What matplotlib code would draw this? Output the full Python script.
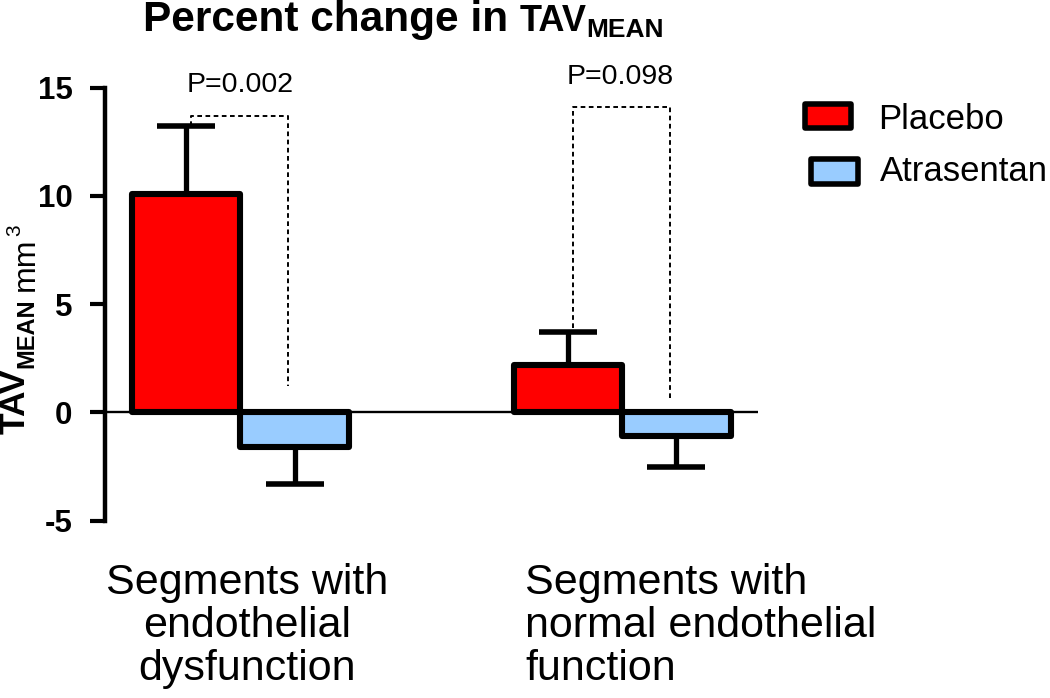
import matplotlib
matplotlib.use('Agg')
import matplotlib.pyplot as plt
from matplotlib.patches import Rectangle
import numpy as np

plt.rcParams['font.family'] = ['Liberation Sans', 'DejaVu Sans']

# ---------------- data ----------------
groups = ['Segments with\nendothelial\ndysfunction',
          'Segments with\nnormal endothelial\nfunction']
series = ['Placebo', 'Atrasentan']
placebo_mean = [10.1, 2.2]
placebo_sem = [3.1, 1.5]
atrasentan_mean = [-1.6, -1.1]
atrasentan_sem = [1.7, 1.4]
p_labels = ['P=0.002', 'P=0.098']
p_label_y = [14.8, 15.15]
bracket_top = [13.7, 14.1]
bracket_left_low = [13.2, 3.9]
bracket_right_low = [1.2, 0.55]
yticks = [-5, 0, 5, 10, 15]

colors = ['#ff0000', '#99ccff']

W, H = 1050, 698
fig = plt.figure(figsize=(W / 100, H / 100), dpi=100)
ax = fig.add_axes([104.5 / W, 1 - 520.7 / H, (758 - 104.5) / W, (520.7 - 87.5) / H])

x = np.arange(len(groups))
w = 0.283

# error bars (one-sided) behind bars
ax.errorbar(x - w / 2, placebo_mean, yerr=[np.zeros(2), placebo_sem], fmt='none',
            ecolor='black', elinewidth=3.8, capsize=21, capthick=4, zorder=2)
ax.errorbar(x + w / 2, atrasentan_mean, yerr=[atrasentan_sem, np.zeros(2)], fmt='none',
            ecolor='black', elinewidth=3.8, capsize=21, capthick=4, zorder=2)

ax.axhline(0, color='black', lw=1.7, zorder=2.5)

ax.bar(x - w / 2, placebo_mean, w, color=colors[0], edgecolor='black', linewidth=4.4,
       joinstyle='round', zorder=3)
ax.bar(x + w / 2, atrasentan_mean, w, color=colors[1], edgecolor='black', linewidth=4.4,
       joinstyle='round', zorder=3)

# significance brackets
for i in range(len(groups)):
    xl = x[i] - 0.13
    xr = x[i] + 0.125
    ax.plot([xl, xl, xr, xr],
            [bracket_left_low[i], bracket_top[i], bracket_top[i], bracket_right_low[i]],
            color='black', lw=1.4, ls=(0, (2.4, 1.8)), zorder=4)
    ax.text(x[i] - 0.005 * i, p_label_y[i], p_labels[i], ha='center', va='baseline',
            fontsize=20.5)

ax.set_xlim(-0.356, 1.355)
ax.set_ylim(-5, 15)
ax.set_yticks(yticks)
ax.set_yticklabels([str(t) for t in yticks], fontsize=22.5, fontweight='bold')
ax.tick_params(axis='y', length=11, width=3, pad=12)
ax.set_xticks([])
for s in ['top', 'right', 'bottom']:
    ax.spines[s].set_visible(False)
ax.spines['left'].set_linewidth(3.2)

# ---------------- text pieces ----------------
fig.canvas.draw()
renderer = fig.canvas.get_renderer()


def hchain(pieces, x0, ybase):
    xx = x0
    for txt, size, weight, dy, gap in pieces:
        t = fig.text(xx / W, 1 - (ybase + dy) / H, txt, fontsize=size, fontweight=weight,
                     ha='left', va='baseline')
        bb = t.get_window_extent(renderer)
        xx = bb.x1 + gap


def vchain(pieces, xbase, y0):
    yy = H - y0  # display coords from bottom
    for txt, size, weight, dx, gap in pieces:
        t = fig.text((xbase + dx) / W, yy / H, txt, fontsize=size, fontweight=weight,
                     rotation=90, rotation_mode='anchor', ha='left', va='baseline')
        bb = t.get_window_extent(renderer)
        yy = bb.y1 + gap


# title
hchain([('Percent change in', 30.5, 'bold', 0, 11),
        ('TAV', 26, 'bold', 0, 0),
        ('MEAN', 19, 'bold', 6, 0)], 143, 31)

# y label
vchain([('TAV', 25.5, 'bold', 0, 0),
        ('MEAN', 17, 'bold', 8, 8),
        ('mm', 23, 'normal', 9, 1),
        ('3', 15, 'normal', -5, 0)], 25, 434)

# category labels
cat_lines = [g.split('\n') for g in groups]
baselines = [594, 637, 680]
for j, line in enumerate(cat_lines[0]):
    fig.text(247 / W, 1 - baselines[j] / H, line, fontsize=31, ha='center', va='baseline')
for j, line in enumerate(cat_lines[1]):
    fig.text(525 / W, 1 - baselines[j] / H, line, fontsize=31, ha='left', va='baseline')

# legend
leg_boxes = [(804.5, 104.5, 46, 23), (810.5, 159.5, 47, 24)]
leg_text = [(878, 129), (880, 181)]
for k, name in enumerate(series):
    bx, by, bw, bh = leg_boxes[k]
    fig.patches.append(Rectangle((bx / W, 1 - (by + bh) / H), bw / W, bh / H,
                                 transform=fig.transFigure, facecolor=colors[k],
                                 edgecolor='black', linewidth=4, joinstyle='round'))
    tx, ty = leg_text[k]
    fig.text(tx / W, 1 - ty / H, name, fontsize=25, ha='left', va='baseline')

fig.savefig('out.png', dpi=100)
